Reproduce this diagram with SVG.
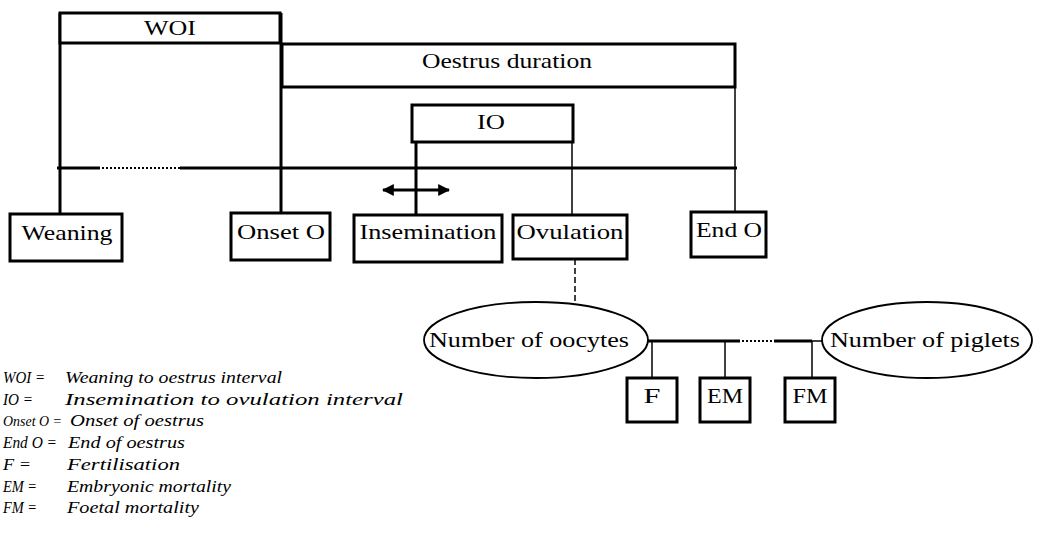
<svg xmlns="http://www.w3.org/2000/svg" width="1041" height="541" viewBox="0 0 1041 541">
<defs>
<style>
.box{fill:#fff;stroke:#000;stroke-width:3}
.lbl{font-family:"Liberation Serif","DejaVu Serif",serif;font-size:22px;fill:#000}
.leg{font-family:"Liberation Serif","DejaVu Serif",serif;font-style:italic;font-size:17.5px;fill:#000}
.key{font-family:"Liberation Serif","DejaVu Serif",serif;font-style:italic;font-size:17.5px;fill:#000}
.thick{stroke:#000;stroke-width:3;fill:none}
.thin{stroke:#000;stroke-width:1.5;fill:none}
.dot{stroke:#000;stroke-width:2;stroke-dasharray:2 2;fill:none}
.dash{stroke:#000;stroke-width:1.5;stroke-dasharray:6 3;fill:none}
.ell{fill:#fff;stroke:#000;stroke-width:1.8}
</style>
<marker id="ah" viewBox="0 0 10 10" refX="9" refY="5" markerWidth="4" markerHeight="4" orient="auto-start-reverse">
<path d="M0,0 L10,5 L0,10 z" fill="#000"/>
</marker>
</defs>

<g id="connectors">
<line class="thick" x1="60" y1="13" x2="60" y2="214"/>
<line class="thick" x1="281" y1="13" x2="281" y2="213"/>
<line class="thin" x1="735" y1="87" x2="735" y2="212"/>
<line class="thick" x1="57" y1="168" x2="100" y2="168"/>
<line class="dot" x1="102" y1="168" x2="180" y2="168"/>
<line class="thick" x1="180" y1="168" x2="737" y2="168"/>
<line class="thick" x1="416" y1="142" x2="416" y2="215"/>
<line class="thin" x1="572" y1="142" x2="572" y2="215"/>
<line class="thick" x1="383" y1="190" x2="449" y2="190" marker-start="url(#ah)" marker-end="url(#ah)"/>
<line class="dash" x1="575" y1="259" x2="575" y2="304"/>
<line class="thick" x1="648" y1="341" x2="740" y2="341"/>
<line class="dot" x1="742" y1="341" x2="774" y2="341"/>
<line class="thick" x1="774" y1="341" x2="812" y2="341"/>
<line class="thin" x1="812" y1="341" x2="824" y2="341"/>
<line class="thin" x1="652" y1="341" x2="652" y2="378"/>
<line class="thin" x1="725" y1="341" x2="725" y2="378"/>
<line class="thin" x1="812" y1="341" x2="812" y2="378"/>
</g>

<g id="woi">
<rect class="box" x="60" y="13" width="220" height="30"/>
<text class="lbl" x="170" y="35" text-anchor="middle" textLength="52" lengthAdjust="spacingAndGlyphs">WOI</text>
</g>
<g id="oestrus-duration">
<rect class="box" x="282" y="44" width="453" height="43"/>
<text class="lbl" x="507" y="68" text-anchor="middle" textLength="170" lengthAdjust="spacingAndGlyphs">Oestrus duration</text>
</g>
<g id="io">
<rect class="box" x="412" y="105" width="161" height="37"/>
<text class="lbl" x="491" y="129" text-anchor="middle" textLength="28" lengthAdjust="spacingAndGlyphs">IO</text>
</g>
<g id="weaning">
<rect class="box" x="10" y="214" width="112" height="47"/>
<text class="lbl" x="67" y="240" text-anchor="middle" textLength="91" lengthAdjust="spacingAndGlyphs">Weaning</text>
</g>
<g id="onset-o">
<rect class="box" x="231" y="213" width="99" height="47"/>
<text class="lbl" x="281" y="239" text-anchor="middle" textLength="88" lengthAdjust="spacingAndGlyphs">Onset O</text>
</g>
<g id="insemination">
<rect class="box" x="354" y="215" width="148" height="47"/>
<text class="lbl" x="428" y="239" text-anchor="middle" textLength="137" lengthAdjust="spacingAndGlyphs">Insemination</text>
</g>
<g id="ovulation">
<rect class="box" x="513" y="215" width="114" height="44"/>
<text class="lbl" x="570" y="239" text-anchor="middle" textLength="107" lengthAdjust="spacingAndGlyphs">Ovulation</text>
</g>
<g id="end-o">
<rect class="box" x="691" y="212" width="75" height="45"/>
<text class="lbl" x="729" y="237" text-anchor="middle" textLength="66" lengthAdjust="spacingAndGlyphs">End O</text>
</g>
<g id="number-of-oocytes">
<ellipse class="ell" cx="536" cy="340" rx="112" ry="38"/>
<text class="lbl" x="529" y="347" text-anchor="middle" textLength="200" lengthAdjust="spacingAndGlyphs">Number of oocytes</text>
</g>
<g id="number-of-piglets">
<ellipse class="ell" cx="927" cy="340" rx="105" ry="38"/>
<text class="lbl" x="925" y="347" text-anchor="middle" textLength="190" lengthAdjust="spacingAndGlyphs">Number of piglets</text>
</g>
<g id="f">
<rect class="box" x="627" y="378" width="50" height="44"/>
<text class="lbl" x="652" y="403" text-anchor="middle" textLength="17" lengthAdjust="spacingAndGlyphs">F</text>
</g>
<g id="em">
<rect class="box" x="700" y="378" width="50" height="44"/>
<text class="lbl" x="725" y="403" text-anchor="middle" textLength="36" lengthAdjust="spacingAndGlyphs">EM</text>
</g>
<g id="fm">
<rect class="box" x="785" y="378" width="50" height="44"/>
<text class="lbl" x="810" y="403" text-anchor="middle" textLength="35" lengthAdjust="spacingAndGlyphs">FM</text>
</g>

<g id="legend">
<text class="key" x="3" y="383" textLength="42" lengthAdjust="spacingAndGlyphs">WOI =</text>
<text class="leg" x="65" y="383" textLength="217" lengthAdjust="spacingAndGlyphs">Weaning to oestrus interval</text>
<text class="key" x="3" y="404.7" textLength="30" lengthAdjust="spacingAndGlyphs">IO =</text>
<text class="leg" x="65" y="404.7" textLength="338" lengthAdjust="spacingAndGlyphs">Insemination to ovulation interval</text>
<text class="key" x="3" y="426.4" style="font-size:15.5px" textLength="59" lengthAdjust="spacingAndGlyphs">Onset O =</text>
<text class="leg" x="70" y="426.4" textLength="134" lengthAdjust="spacingAndGlyphs">Onset of oestrus</text>
<text class="key" x="3" y="448.1" textLength="54" lengthAdjust="spacingAndGlyphs">End O =</text>
<text class="leg" x="68" y="448.1" textLength="117" lengthAdjust="spacingAndGlyphs">End of oestrus</text>
<text class="key" x="3" y="469.8" textLength="28" lengthAdjust="spacingAndGlyphs">F =</text>
<text class="leg" x="67" y="469.8" textLength="113" lengthAdjust="spacingAndGlyphs">Fertilisation</text>
<text class="key" x="3" y="491.5" textLength="34" lengthAdjust="spacingAndGlyphs">EM =</text>
<text class="leg" x="67" y="491.5" textLength="164" lengthAdjust="spacingAndGlyphs">Embryonic mortality</text>
<text class="key" x="3" y="513.2" textLength="34" lengthAdjust="spacingAndGlyphs">FM =</text>
<text class="leg" x="67" y="513.2" textLength="132" lengthAdjust="spacingAndGlyphs">Foetal mortality</text>
</g>
</svg>
